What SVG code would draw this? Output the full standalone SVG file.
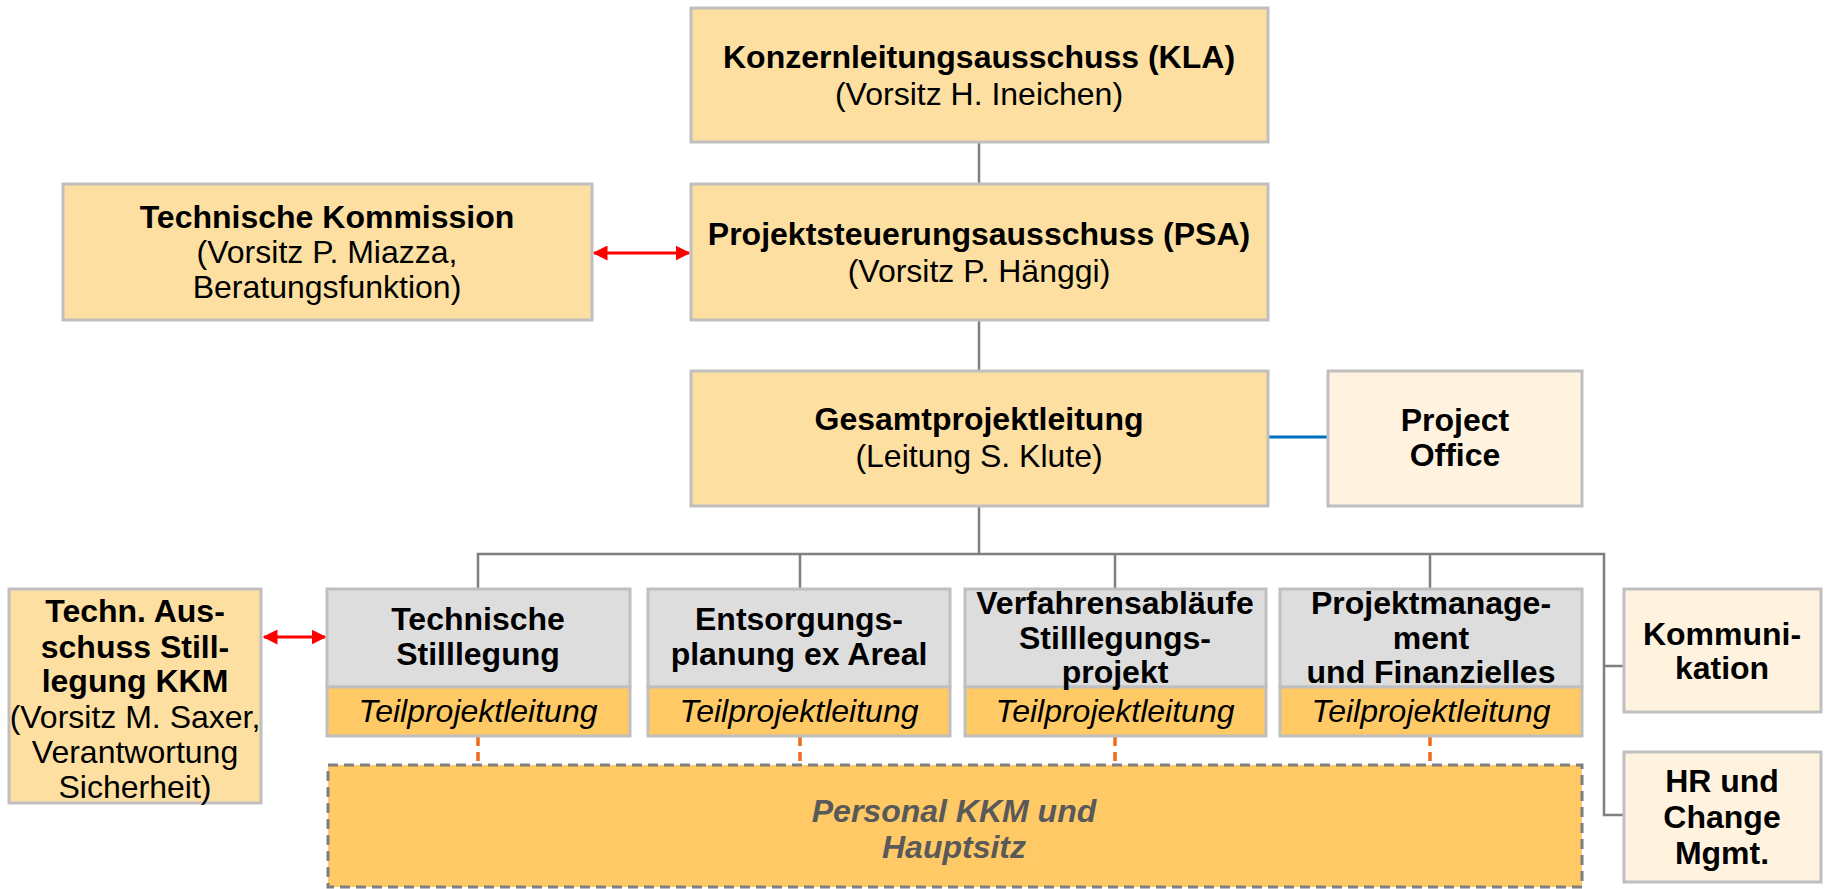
<svg xmlns="http://www.w3.org/2000/svg" width="1825" height="889" viewBox="0 0 1825 889">
<style>
text{font-family:"Liberation Sans",Arial,sans-serif;font-size:32px;fill:#000;text-anchor:middle}
.b{font-weight:bold}
.i{font-style:italic}
.box{stroke:#BFBFBF;stroke-width:3}
.main{fill:#FDDFA1}
.light{fill:#FFF3DF}
.grey{fill:#DDDDDD}
.org{fill:#FFCA66}
.ln{stroke:#7F7F7F;stroke-width:2.5;fill:none}
.red{stroke:#FF0000;stroke-width:3;fill:none}
.od{stroke:#F26A1B;stroke-width:3.5;stroke-dasharray:9,6;fill:none}
</style>
<defs>
<marker id="ah" viewBox="0 0 10 10" refX="9" refY="5" markerWidth="5" markerHeight="5" orient="auto-start-reverse" markerUnits="strokeWidth">
<path d="M0,0 L10,5 L0,10 z" fill="#FF0000"/>
</marker>
</defs>
<g id="connectors">
<line class="ln" x1="979" y1="142" x2="979" y2="184"/>
<line class="ln" x1="979" y1="320" x2="979" y2="371"/>
<line class="ln" x1="979" y1="506" x2="979" y2="554"/>
<polyline class="ln" points="478,589 478,554 1604,554 1604,815 1624,815"/>
<line class="ln" x1="1604" y1="666" x2="1624" y2="666"/>
<line class="ln" x1="800" y1="554" x2="800" y2="589"/>
<line class="ln" x1="1115" y1="554" x2="1115" y2="589"/>
<line class="ln" x1="1430" y1="554" x2="1430" y2="589"/>
<line x1="1268" y1="437" x2="1328" y2="437" stroke="#0070C0" stroke-width="3"/>
<line class="red" x1="594" y1="253" x2="689" y2="253" marker-start="url(#ah)" marker-end="url(#ah)"/>
<line class="red" x1="264" y1="637" x2="325" y2="637" marker-start="url(#ah)" marker-end="url(#ah)"/>
<line class="od" x1="478" y1="737" x2="478" y2="765"/>
<line class="od" x1="800" y1="737" x2="800" y2="765"/>
<line class="od" x1="1115" y1="737" x2="1115" y2="765"/>
<line class="od" x1="1430" y1="737" x2="1430" y2="765"/>
</g>
<g id="kla">
<rect class="box main" x="691" y="8" width="577" height="134"/>
<text class="b" x="979" y="68">Konzernleitungsausschuss (KLA)</text>
<text x="979" y="105">(Vorsitz H. Ineichen)</text>
</g>
<g id="psa">
<rect class="box main" x="691" y="184" width="577" height="136"/>
<text class="b" x="979" y="245">Projektsteuerungsausschuss (PSA)</text>
<text x="979" y="282">(Vorsitz P. Hänggi)</text>
</g>
<g id="tk">
<rect class="box main" x="63" y="184" width="529" height="136"/>
<text class="b" x="327" y="228">Technische Kommission</text>
<text x="327" y="263">(Vorsitz P. Miazza,</text>
<text x="327" y="298">Beratungsfunktion)</text>
</g>
<g id="gpl">
<rect class="box main" x="691" y="371" width="577" height="135"/>
<text class="b" x="979" y="430">Gesamtprojektleitung</text>
<text x="979" y="467">(Leitung S. Klute)</text>
</g>
<g id="po">
<rect class="box light" x="1328" y="371" width="254" height="135"/>
<text class="b" x="1455" y="431">Project</text>
<text class="b" x="1455" y="466">Office</text>
</g>
<g id="tas">
<rect class="box main" x="9" y="589" width="252" height="214"/>
<text class="b" x="135" y="622">Techn. Aus-</text>
<text class="b" x="135" y="658">schuss Still-</text>
<text class="b" x="135" y="692">legung KKM</text>
<text x="135" y="728">(Vorsitz M. Saxer,</text>
<text x="135" y="763">Verantwortung</text>
<text x="135" y="798">Sicherheit)</text>
</g>
<g id="tp1">
<rect class="box grey" x="327" y="589" width="303" height="98"/>
<rect class="box org" x="327" y="687" width="303" height="49"/>
<text class="b" x="478" y="630">Technische</text>
<text class="b" x="478" y="665">Stilllegung</text>
<text class="i" x="478" y="722">Teilprojektleitung</text>
</g>
<g id="tp2">
<rect class="box grey" x="648" y="589" width="302" height="98"/>
<rect class="box org" x="648" y="687" width="302" height="49"/>
<text class="b" x="799" y="630">Entsorgungs-</text>
<text class="b" x="799" y="665">planung ex Areal</text>
<text class="i" x="799" y="722">Teilprojektleitung</text>
</g>
<g id="tp3">
<rect class="box grey" x="965" y="589" width="301" height="98"/>
<rect class="box org" x="965" y="687" width="301" height="49"/>
<text class="b" x="1115" y="614">Verfahrensabläufe</text>
<text class="b" x="1115" y="649">Stilllegungs-</text>
<text class="b" x="1115" y="683">projekt</text>
<text class="i" x="1115" y="722">Teilprojektleitung</text>
</g>
<g id="tp4">
<rect class="box grey" x="1280" y="589" width="302" height="98"/>
<rect class="box org" x="1280" y="687" width="302" height="49"/>
<text class="b" x="1431" y="614">Projektmanage-</text>
<text class="b" x="1431" y="649">ment</text>
<text class="b" x="1431" y="683">und Finanzielles</text>
<text class="i" x="1431" y="722">Teilprojektleitung</text>
</g>
<g id="komm">
<rect class="box light" x="1624" y="589" width="197" height="123"/>
<text class="b" x="1722" y="645">Kommuni-</text>
<text class="b" x="1722" y="679">kation</text>
</g>
<g id="hr">
<rect class="box light" x="1624" y="752" width="197" height="130"/>
<text class="b" x="1722" y="792">HR und</text>
<text class="b" x="1722" y="828">Change</text>
<text class="b" x="1722" y="864">Mgmt.</text>
</g>
<g id="personal">
<rect x="328" y="765" width="1254" height="122" fill="#FFCA66" stroke="#7F7F7F" stroke-width="3" stroke-dasharray="10,6"/>
<text class="b i" x="954" y="822" style="fill:#595959">Personal KKM und</text>
<text class="b i" x="954" y="858" style="fill:#595959">Hauptsitz</text>
</g>
</svg>
